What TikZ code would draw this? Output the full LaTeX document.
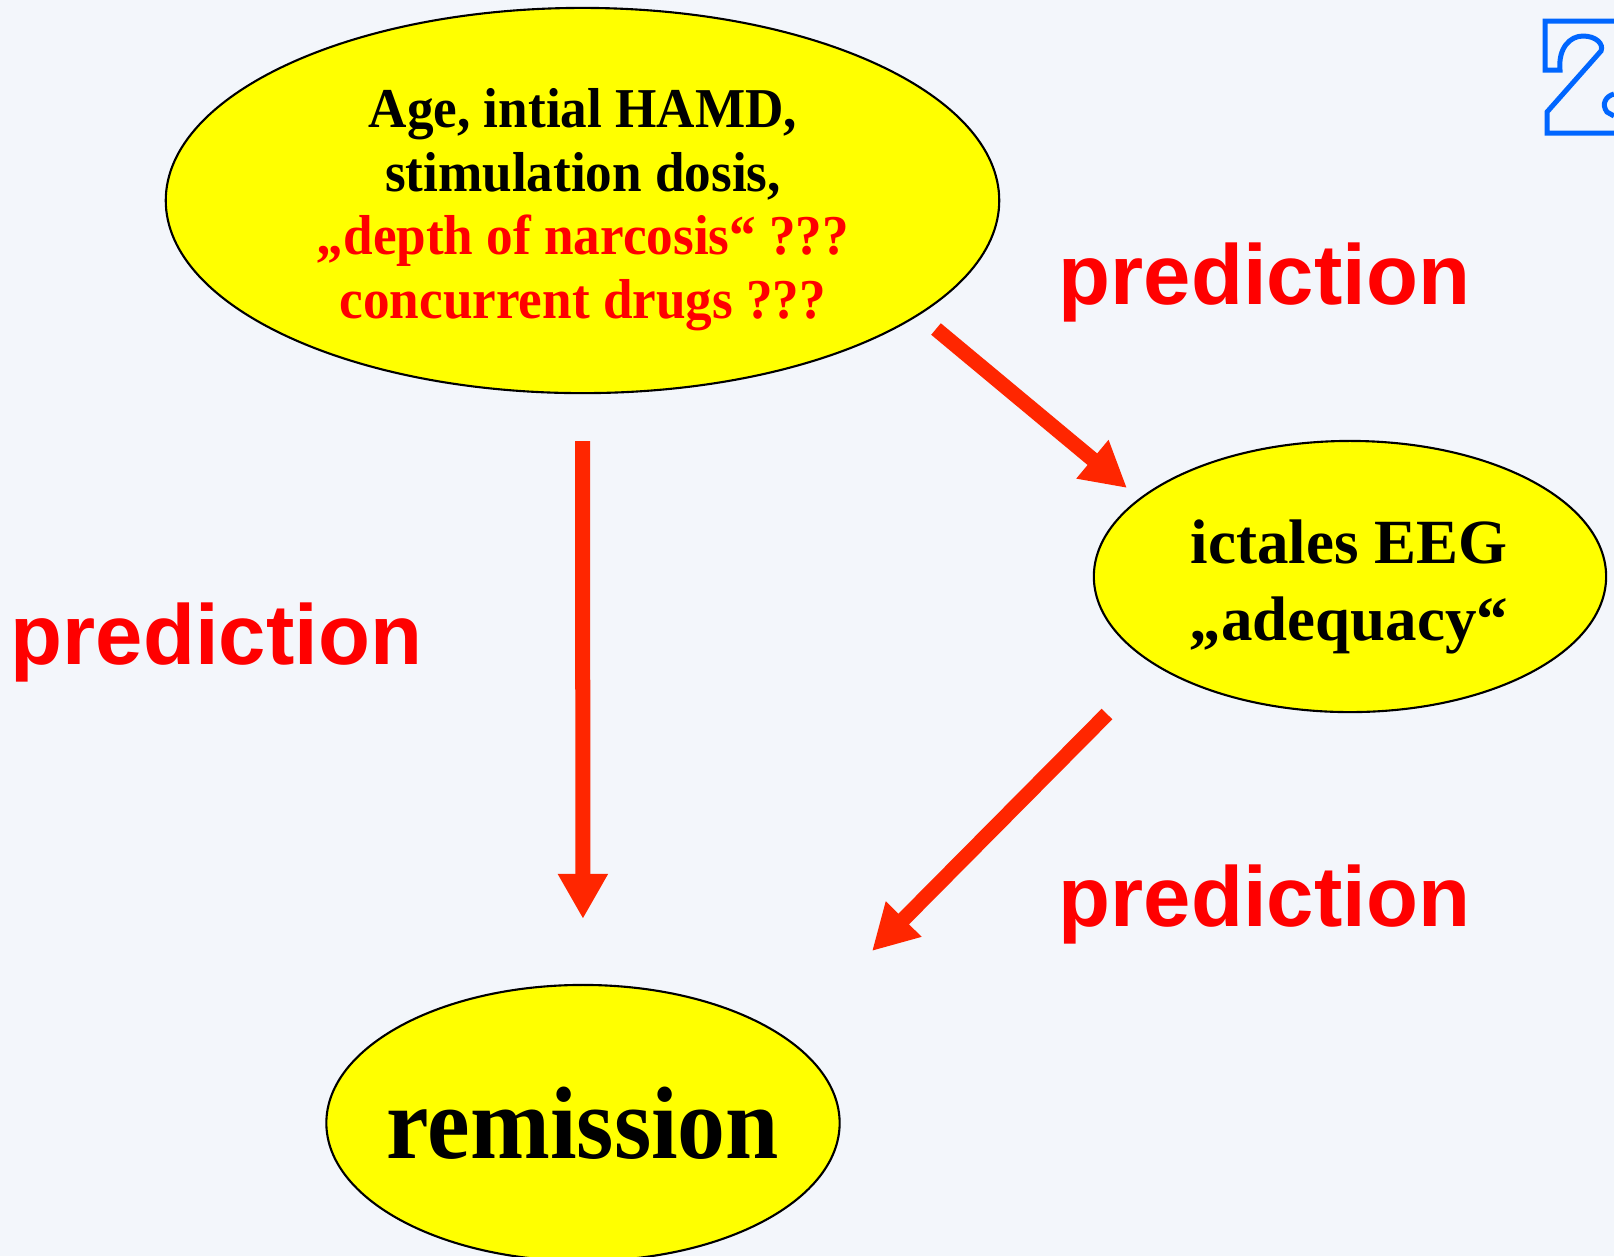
\documentclass[tikz,border=0pt]{standalone}
\usepackage{fontspec}
\setmainfont{Liberation Serif}
\newfontfamily\narrowserif[FakeStretch=0.93]{Liberation Serif}
\newfontfamily\bubbleserif[FakeStretch=0.945]{Liberation Serif}
\newfontfamily\arialfont{Liberation Sans}
\usetikzlibrary{shapes.geometric,arrows.meta}

\definecolor{bubbleyellow}{RGB}{255,255,0}
\definecolor{arrowred}{RGB}{255,38,0}
\definecolor{logoblue}{RGB}{0,102,255}
\definecolor{paper}{RGB}{243,246,251}

\begin{document}
\begin{tikzpicture}[x=0.01cm,y=-0.01cm,
	bubble/.style={ellipse,draw=black,line width=0.6pt,fill=bubbleyellow,inner sep=0pt,outer sep=0pt},
	bubbletext/.style={inner sep=0pt,align=center},
	bigarrow/.style={color=arrowred,line width=0.15cm,-{Triangle[width=0.47cm,length=0.45cm]}},
	predlabel/.style={anchor=base west,inner sep=0pt,text=red,font=\arialfont\bfseries\fontsize{24.2pt}{29pt}\selectfont}]

\fill[paper] (0,0) rectangle (1614,1256);
\useasboundingbox (0,0) rectangle (1614,1256);

% logo corner
\draw[logoblue,line width=0.05cm] (1614,21) -- (1545,21) -- (1545,70) -- (1560,70)
	.. controls (1558,48) and (1570,36) .. (1583,36)
	.. controls (1596,36) and (1604,44) .. (1601,51) -- (1547,112) -- (1547,133) -- (1614,133);
\draw[logoblue,line width=0.05cm] (1614,94) .. controls (1606,96) and (1601,104) .. (1607,112) -- (1614,116);

% bubbles
\node[bubble,minimum width=8.33cm,minimum height=3.85cm] (riskfactors) at (582.5,200.5) {};
\node[bubble,minimum width=5.12cm,minimum height=2.71cm] (eeg) at (1350,576.5) {};
\node[bubble,minimum width=5.13cm,minimum height=2.76cm] (remission) at (583,1123) {};

\node[bubbletext,font=\bubbleserif\bfseries\fontsize{16pt}{18.1pt}\selectfont] (riskfactorstext) at (583,209.5)
	{Age, intial HAMD,\\ stimulation dosis,\\ \textcolor{red}{„depth of narcosis“ ???}\\ \textcolor{red}{concurrent drugs ???}};
\node[bubbletext,font=\bfseries\fontsize{17.9pt}{21.9pt}\selectfont] (eegtext) at (1349,587)
	{ictales EEG\\ „adequacy“};
\node[bubbletext,font=\narrowserif\bfseries\fontsize{29.3pt}{35pt}\selectfont] (remissiontext) at (583,1123) {remission};

% arrows
\coordinate (riskout) at (936,329);
\coordinate (eegin) at (1127,488);
\coordinate (eegout) at (1107,714);
\coordinate (remin) at (872,951);

\draw[bigarrow,shorten <=0.48cm,shorten >=0.66cm] (riskfactors.south) -- (remission.north);
\draw[bigarrow] (riskout) -- (eegin);
\draw[bigarrow] (eegout) -- (remin);

\node[predlabel] (predtop) at (1058,304) {prediction};
\node[predlabel] (predleft) at (10,664) {prediction};
\node[predlabel] (predbottom) at (1058,926) {prediction};

\end{tikzpicture}
\end{document}
